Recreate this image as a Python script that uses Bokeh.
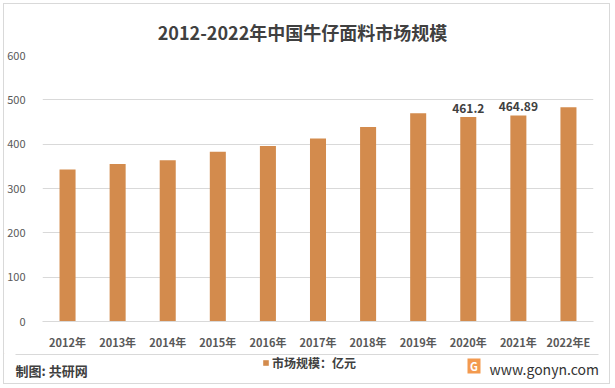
from bokeh.plotting import figure
from bokeh.layouts import column
from bokeh.models import (LabelSet, ColumnDataSource, Legend, LegendItem,
                          FixedTicker, Range1d)
from bokeh.core.properties import value
from bokeh.embed import file_html
from bokeh.resources import INLINE

# ---- data ----
years = ["2012年", "2013年", "2014年", "2015年", "2016年", "2017年",
         "2018年", "2019年", "2020年", "2021年", "2022年E"]
market_size = [343, 355, 364, 383, 396, 413, 439, 470, 461.2, 464.89, 483]
label_years = ["2020年", "2021年"]
label_values = [461.2, 464.89]
label_texts = ["461.2", "464.89"]
y_ticks = [0, 100, 200, 300, 400, 500, 600]
series_name = "市场规模：亿元"
title_text = "2012-2022年中国牛仔面料市场规模"
source_text = "制图: 共研网"
site_text = "www.gonyn.com"

FONT = "Noto Sans CJK SC"
BAR = "#D38B4D"
GRID = "#D9D9D9"
TXT = "#404040"

W = 605
H_TITLE, H_MAIN, H_FOOT = 41, 308, 30


def blank_fig(h):
    f = figure(width=W, height=h, x_range=Range1d(0, W), y_range=Range1d(h, 0),
               x_axis_type=None, y_axis_type=None, output_backend="svg",
               toolbar_location=None, min_border=0,
               min_border_left=0, min_border_right=0,
               min_border_top=0, min_border_bottom=0)
    f.frame_align = False
    f.outline_line_color = None
    f.background_fill_color = "white"
    f.border_fill_color = "white"
    return f


# ---- title figure ----
t = blank_fig(H_TITLE)
t.text(x=[298], y=[27], text=[title_text], text_align="center",
       text_baseline="middle", text_font=value(FONT), text_font_size="18px",
       text_font_style="bold", text_color=TXT)

# ---- main chart ----
p = figure(x_range=years, y_range=Range1d(0, 600), width=W, height=H_MAIN,
           output_backend="svg", toolbar_location=None,
           min_border_left=34, min_border_right=16,
           min_border_top=10, min_border_bottom=32)
p.frame_align = False
p.outline_line_color = None
p.background_fill_color = "white"
p.border_fill_color = "white"
p.x_range.range_padding = 0

src = ColumnDataSource(dict(year=years, size=market_size))
bars = p.vbar(x="year", top="size", width=0.32, source=src,
              fill_color=BAR, line_color=None)

p.yaxis.ticker = FixedTicker(ticks=y_ticks)
p.yaxis.axis_line_color = None
p.yaxis.major_tick_line_color = None
p.yaxis.minor_tick_line_color = None
p.yaxis.major_label_standoff = 11
p.yaxis.major_label_text_font = FONT
p.yaxis.major_label_text_font_size = "11px"
p.yaxis.major_label_text_color = "#595959"

p.xaxis.axis_line_color = GRID
p.xaxis.major_tick_line_color = None
p.xaxis.minor_tick_line_color = None
p.xaxis.major_label_standoff = 6
p.xaxis.major_label_text_font = FONT
p.xaxis.major_label_text_font_size = "11px"
p.xaxis.major_label_text_font_style = "bold"
p.xaxis.major_label_text_color = "#595959"

p.xgrid.grid_line_color = None
p.ygrid.grid_line_color = GRID
p.ygrid.grid_line_width = 1

lsrc = ColumnDataSource(dict(year=label_years, v=label_values, t=label_texts))
p.add_layout(LabelSet(x="year", y="v", text="t", source=lsrc,
                      text_align="center", text_baseline="bottom", y_offset=4,
                      text_font=value(FONT), text_font_size=value("12px"),
                      text_font_style=value("bold"), text_color=value(TXT)))

# ---- footer ----
f = blank_fig(H_FOOT)
f.segment(x0=[11], y0=[1], x1=[594], y1=[1], line_color=GRID, line_width=1)
f.text(x=[11], y=[17], text=[source_text], text_align="left",
       text_baseline="middle", text_font=value(FONT), text_font_size="13px",
       text_font_style="bold", text_color=TXT)
# logo
f.quad(left=[463], right=[476], top=[5], bottom=[20],
       fill_color="#F39A4F", line_color=None)
f.text(x=[469.5], y=[12.5], text=["G"], text_align="center",
       text_baseline="middle", text_font=value(FONT), text_font_size="11px",
       text_font_style="bold", text_color="white")
f.text(x=[485], y=[15], text=[site_text], text_align="left",
       text_baseline="middle", text_font=value(FONT), text_font_size="14px",
       text_color="#333333")
# legend (uses a swatch renderer styled like the bars, kept out of view)
swatch = f.vbar(x=[-50], top=[-50], bottom=[-60], width=1,
                fill_color=BAR, line_color=None)
legend = Legend(items=[LegendItem(label=series_name, renderers=[swatch])],
                location=(258, 12), orientation="horizontal",
                glyph_width=7, glyph_height=7, label_standoff=3,
                label_height=14, padding=0, margin=0, spacing=0,
                border_line_color=None, background_fill_alpha=0,
                label_text_font=FONT, label_text_font_size="12px",
                label_text_font_style="bold", label_text_color=TXT)
f.add_layout(legend)

layout = column(t, p, f, spacing=0,
                styles={"border": "1px solid #D9D9D9", "background": "white",
                        "margin": "3px 0 0 3px"})

open("out.html", "w").write(file_html(layout, INLINE))
